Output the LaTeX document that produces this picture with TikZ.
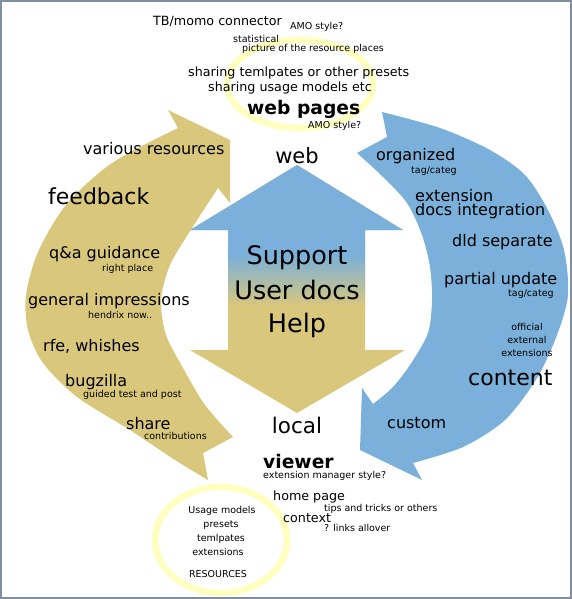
\documentclass[tikz,border=0pt]{standalone}
\usepackage{fontspec}
\setmainfont{DejaVu Sans}
\definecolor{sand}{RGB}{217,199,124}
\definecolor{sky}{RGB}{122,176,217}
\definecolor{ringc}{RGB}{255,255,192}
\definecolor{framec}{RGB}{128,142,160}
\usetikzlibrary{
    calc,
    %positioning,
}

\begin{document}
\begin{tikzpicture}[x=1pt, y=-1pt,
    txt/.style = {inner sep=0pt, anchor=mid west},
    big/.style = {txt, yshift=-5.5pt, font=\fontsize{22}{24}\selectfont},
    med/.style = {txt, yshift=-4pt, font=\fontsize{16}{18}\selectfont},
    sml/.style = {txt, yshift=-2.3pt, font=\fontsize{9.5}{11}\selectfont},
    hdr/.style = {txt, yshift=-3pt, font=\fontsize{12.7}{14}\selectfont},
    bld/.style = {txt, yshift=-4.5pt, font=\fontsize{18.7}{20}\selectfont\bfseries},
    huge/.style = {txt, yshift=-6.5pt, anchor=mid, font=\fontsize{25.5}{28}\selectfont},
    ring/.style = {draw=ringc, line width=6.5pt}]
    \useasboundingbox (0,0) rectangle (572,599);
    \fill[white] (0,0) rectangle (572,599);
    % the two rings
    \draw[ring] (300,84) ellipse [x radius=73, y radius=44];
    \draw[ring] (221,540) ellipse [x radius=66, y radius=53];
    % feedback arrow
    \fill[sand] (178,128) -- (168,110) -- (230,140) -- (230,203) -- (218,188)
        -- plot[smooth] coordinates {(218,188) (192,228) (170,265) (161,300) (166,335) (183,368) (205,405) (233,437)}
        -- (203,453) -- (208,480)
        -- plot[smooth] coordinates {(208,480) (175,460) (130,430) (77,397) (43,363) (28,330) (26,295) (38,252) (66,205) (112,163) (178,128)}
        -- cycle;
    % content arrow
    \fill[sky] (382,112) -- (387,137) -- (357,153)
        -- plot[smooth] coordinates {(357,153) (383,177) (407,203) (422,235) (430,267) (432,300) (428,333) (410,365) (392,388) (373,404)}
        -- (362,388) -- (360,450) -- (422,480) -- (413,463)
        -- plot[smooth] coordinates {(413,463) (463,447) (505,420) (537,378) (557,335) (568,295) (564,250) (548,210) (525,175) (490,150) (440,128) (382,112)}
        -- cycle;
    % support arrow
    \begin{scope}
        \clip (297,165) -- (403,230) -- (365,230) -- (365,350) -- (405,350) -- (297,413)
            -- (190,350) -- (228,350) -- (228,230) -- (190,230) -- cycle;
        \fill[sand] (185,160) rectangle (410,420);
        \fill[sky] (185,160) rectangle (410,256);
        \shade[top color=sky, bottom color=sand] (185,255) rectangle (410,306);
    \end{scope}

    \node[hdr] (tb) at (153,20) {TB/momo connector};
    \node[sml] (amo1) at (290,24) {AMO style?};
    \node[sml] (stat) at (233,37) {statistical};
    \node[sml] (pic) at (242,46) {picture of the resource places};
    \node[hdr] (shtpl) at (188,71) {sharing temlpates or other presets};
    \node[hdr] (shuse) at (208,86) {sharing usage models etc};
    \node[bld] (webp) at (247,107) {web pages};
    \node[sml] (amo2) at (308,123) {AMO style?};

    \node[med] (vr) at (83,148) {various resources};
    \node[big] (fb) at (48,196) {feedback};
    \node[med] (qa) at (49,252) {q\&a guidance};
    \node[sml] (rp) at (102,266) {right place};
    \node[med] (gi) at (28,299) {general impressions};
    \node[sml] (hn) at (88,313) {hendrix now..};
    \node[med] (rfe) at (43,345) {rfe, whishes};
    \node[med] (bz) at (65,380) {bugzilla};
    \node[sml] (gt) at (83,392) {guided test and post};
    \node[med] (sh) at (126,423) {share};
    \node[sml] (ct) at (144,434) {contributions};

    \node[med] (org) at (376,154) {organized};
    \node[sml] (tc1) at (411,168) {tag/categ};
    \node[med] (ext) at (415,195) {extension};
    \node[med] (di) at (415,209) {docs integration};
    \node[med] (dld) at (452,240) {dld separate};
    \node[med] (pu) at (444,278) {partial update};
    \node[sml] (tc2) at (508,291) {tag/categ};
    \node[sml, anchor=mid] (off) at (527,325) {official};
    \node[sml, anchor=mid] (extl) at (527,338) {external};
    \node[sml, anchor=mid] (exts) at (527,351) {extensions};
    \node[big] (cnt) at (468,377) {content};
    \node[med] (cus) at (387,422) {custom};

    \node[big, font=\fontsize{21}{23}\selectfont, anchor=mid] (web) at (297,155) {web};
    \node[huge] (sup) at (297,255) {Support};
    \node[huge] (ud) at (297,290) {User docs};
    \node[huge] (hlp) at (297,323) {Help};
    \node[big, font=\fontsize{21.5}{23}\selectfont, anchor=mid] (loc) at (297,425) {local};
    \node[bld] (vw) at (263,461) {viewer};
    \node[sml] (ems) at (263,473) {extension manager style?};
    \node[hdr] (hp) at (273,495) {home page};
    \node[sml] (tips) at (324,506) {tips and tricks or others};
    \node[hdr] (ctx) at (283,517) {context};
    \node[sml] (lnk) at (324,526) {? links allover};

    \node[sml, anchor=mid] (um) at (222,508) {Usage models};
    \node[sml, anchor=mid] (pre) at (221,522) {presets};
    \node[sml, anchor=mid] (tpl) at (221,536) {temlpates};
    \node[sml, anchor=mid] (exr) at (218,550) {extensions};
    \node[sml, anchor=mid] (res) at (218,572) {RESOURCES};

    \draw[framec, line width=2pt] (1,1) rectangle (571,598);
\end{tikzpicture}
\end{document}
